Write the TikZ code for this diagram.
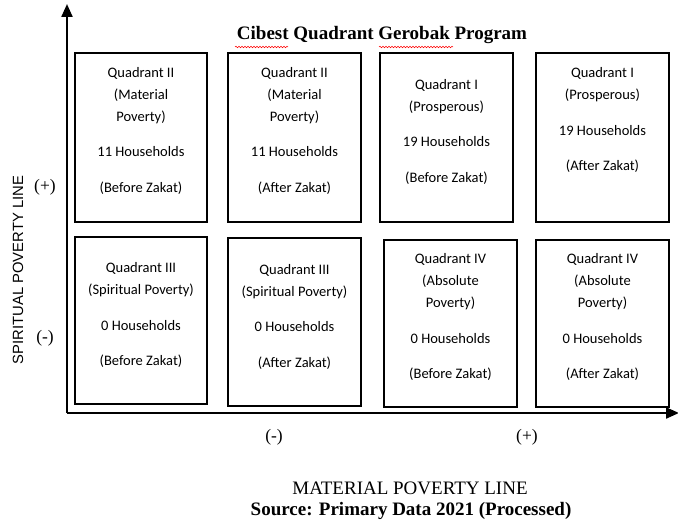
\documentclass[tikz,border=0pt]{standalone}
\usepackage{fontspec}
\setmainfont{Liberation Serif}
\newfontfamily\boxfont{Carlito}
\newfontfamily\labfont{Liberation Sans}
\usetikzlibrary{arrows.meta,decorations.pathmorphing}
\begin{document}
\begin{tikzpicture}[x=1pt,y=-1pt,
  quad/.style={draw=black,line width=1.4pt,rectangle,inner sep=0pt},
  qtext/.style={align=center,inner sep=0pt,font=\boxfont\fontsize{14.5}{22}\selectfont},
  axis/.style={line width=2.2pt,-{Triangle[length=13pt,width=11pt]}},
  sign/.style={inner sep=0pt,font=\fontsize{17.5}{20}\selectfont},
  squiggle/.style={red,line width=0.5pt,decorate,decoration={snake,amplitude=0.8pt,segment length=3pt}}
]
\path[use as bounding box] (0,0) rectangle (678,524);
% axes
\coordinate (O) at (67,413);
\coordinate (ytip) at (67,4);
\coordinate (xtip) at (679,413);
\draw[axis] (O) -- (ytip);
\draw[axis] (O) -- (xtip);
% title
\node[inner sep=0pt,font=\bfseries\fontsize{19}{22}\selectfont] (title) at (382,35) {Cibest Quadrant Gerobak Program};
\coordinate (u1a) at (235,47); \coordinate (u1b) at (288,47);
\coordinate (u2a) at (379,47); \coordinate (u2b) at (453,47);
\draw[squiggle] (u1a) -- (u1b);
\draw[squiggle] (u2a) -- (u2b);
% boxes top row
\node[quad,minimum width=132pt,minimum height=169pt] (b1) at (141,137.5) {};
\node[quad,minimum width=133pt,minimum height=169pt] (b2) at (294.5,137.5) {};
\node[quad,minimum width=133pt,minimum height=169pt] (b3) at (446.5,137.5) {};
\node[quad,minimum width=133pt,minimum height=169pt] (b4) at (602.5,137.5) {};
% boxes bottom row
\node[quad,minimum width=132pt,minimum height=167pt] (b5) at (141,320.5) {};
\node[quad,minimum width=133pt,minimum height=168pt] (b6) at (294.5,322) {};
\node[quad,minimum width=133pt,minimum height=167pt] (b7) at (450.5,323.5) {};
\node[quad,minimum width=133pt,minimum height=167pt] (b8) at (602.5,323.5) {};
% texts
\node[qtext] (t1) at (141,130.5) {Quadrant II\\(Material\\Poverty)\\[13.5pt]11 Households\\[13.5pt](Before Zakat)};
\node[qtext] (t2) at (294.5,130.5) {Quadrant II\\(Material\\Poverty)\\[13.5pt]11 Households\\[13.5pt](After Zakat)};
\node[qtext] (t3) at (446.5,131.5) {Quadrant I\\(Prosperous)\\[13.5pt]19 Households\\[13.5pt](Before Zakat)};
\node[qtext] (t4) at (602.5,120) {Quadrant I\\(Prosperous)\\[13.5pt]19 Households\\[13.5pt](After Zakat)};
\node[qtext] (t5) at (141,315) {Quadrant III\\(Spiritual Poverty)\\[13.5pt]0 Households\\[13.5pt](Before Zakat)};
\node[qtext] (t6) at (294.5,316.5) {Quadrant III\\(Spiritual Poverty)\\[13.5pt]0 Households\\[13.5pt](After Zakat)};
\node[qtext] (t7) at (450.5,317) {Quadrant IV\\(Absolute\\Poverty)\\[13.5pt]0 Households\\[13.5pt](Before Zakat)};
\node[qtext] (t8) at (602.5,317) {Quadrant IV\\(Absolute\\Poverty)\\[13.5pt]0 Households\\[13.5pt](After Zakat)};
% axis signs
\node[sign] (yp) at (45,187) {(+)};
\node[sign] (ym) at (45,338) {(-)};
\node[sign] (xm) at (274,437) {(-)};
\node[sign] (xp) at (527,437) {(+)};
% axis labels
\node[inner sep=0pt,rotate=90,font=\labfont\fontsize{14.8}{16}\selectfont] (ylab) at (18,270) {SPIRITUAL POVERTY LINE};
\node[inner sep=0pt,font=\fontsize{19}{22}\selectfont] (xlab) at (410,488) {MATERIAL POVERTY LINE};
\node[inner sep=0pt,font=\bfseries\fontsize{19}{22}\selectfont] (src) at (411,511) {Source: Primary Data 2021 (Processed)};
\end{tikzpicture}
\end{document}
